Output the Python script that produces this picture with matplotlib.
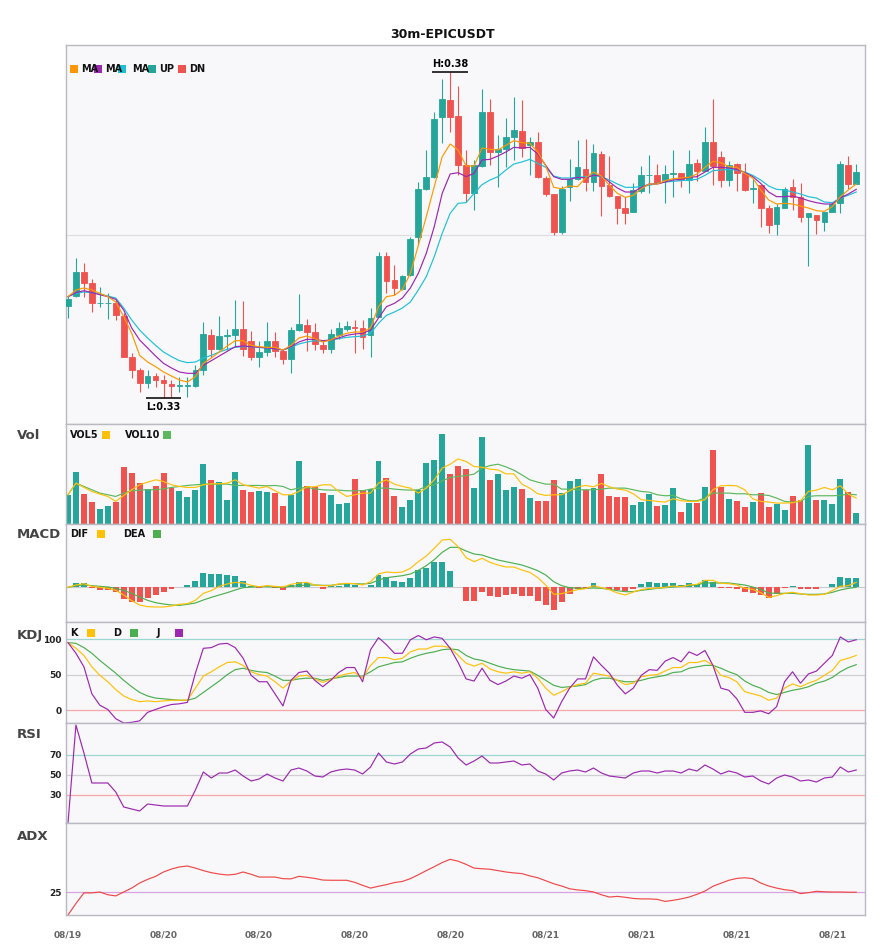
import matplotlib
matplotlib.use("Agg")
import matplotlib.pyplot as plt
from matplotlib.patches import Rectangle
import numpy as np
import pandas as pd

W, H = 885, 950
UP, DN = "#26a69a", "#ef5350"
BG, EDGE = "#f8f8fa", "#b9b9c2"
LW = 0.85

# prices in units of 1e-4
open_ = np.array([
    3437, 3452, 3488, 3471, 3441, 3441, 3442, 3422, 3361, 3341,
    3321, 3332, 3326, 3320, 3317, 3317, 3317, 3341, 3393, 3372,
    3392, 3393, 3402, 3385, 3361, 3368, 3385, 3370, 3358, 3401,
    3408, 3398, 3378, 3373, 3393, 3403, 3405, 3404, 3393, 3421,
    3512, 3476, 3463, 3483, 3541, 3613, 3631, 3720, 3746, 3722,
    3648, 3607, 3647, 3728, 3668, 3672, 3690, 3700, 3678, 3683,
    3629, 3605, 3548, 3615, 3628, 3643, 3623, 3665, 3618, 3602,
    3584, 3578, 3610, 3633, 3634, 3626, 3635, 3636, 3626, 3651,
    3640, 3683, 3660, 3626, 3650, 3636, 3613, 3618, 3584, 3560,
    3584, 3615, 3600, 3570, 3574, 3563, 3578, 3591, 3648, 3620]) / 1e4
high = np.array([
    3452, 3509, 3502, 3477, 3465, 3456, 3446, 3426, 3366, 3344,
    3341, 3337, 3333, 3326, 3331, 3331, 3348, 3413, 3403, 3422,
    3403, 3446, 3445, 3400, 3385, 3413, 3398, 3373, 3406, 3455,
    3418, 3411, 3386, 3402, 3413, 3414, 3416, 3416, 3434, 3518,
    3518, 3498, 3484, 3541, 3623, 3671, 3728, 3777, 3788, 3767,
    3671, 3656, 3763, 3748, 3693, 3719, 3751, 3746, 3691, 3698,
    3632, 3605, 3617, 3658, 3686, 3687, 3680, 3669, 3662, 3602,
    3601, 3622, 3647, 3663, 3650, 3648, 3671, 3636, 3671, 3658,
    3706, 3747, 3670, 3655, 3652, 3652, 3627, 3618, 3588, 3590,
    3616, 3627, 3621, 3576, 3574, 3578, 3593, 3655, 3662, 3650]) / 1e4
low = np.array([
    3419, 3450, 3451, 3428, 3436, 3418, 3416, 3360, 3329, 3308,
    3314, 3315, 3299, 3301, 3308, 3301, 3316, 3333, 3361, 3371,
    3371, 3376, 3362, 3356, 3345, 3362, 3361, 3350, 3337, 3400,
    3370, 3371, 3366, 3366, 3387, 3400, 3367, 3372, 3361, 3420,
    3456, 3453, 3461, 3482, 3528, 3611, 3629, 3681, 3698, 3633,
    3593, 3581, 3646, 3648, 3616, 3646, 3656, 3661, 3633, 3629,
    3602, 3543, 3545, 3595, 3626, 3610, 3610, 3572, 3601, 3560,
    3560, 3578, 3607, 3606, 3621, 3591, 3601, 3616, 3606, 3625,
    3639, 3618, 3616, 3617, 3610, 3610, 3592, 3556, 3546, 3543,
    3584, 3581, 3563, 3497, 3545, 3550, 3578, 3576, 3613, 3620]) / 1e4
close = np.array([
    3448, 3488, 3472, 3442, 3442, 3442, 3423, 3361, 3341, 3321,
    3332, 3326, 3321, 3317, 3318, 3318, 3341, 3395, 3373, 3392,
    3393, 3402, 3372, 3361, 3368, 3385, 3370, 3357, 3401, 3410,
    3398, 3380, 3373, 3395, 3404, 3407, 3404, 3390, 3419, 3512,
    3475, 3464, 3482, 3538, 3613, 3630, 3718, 3747, 3721, 3648,
    3606, 3648, 3728, 3668, 3672, 3690, 3701, 3674, 3683, 3630,
    3605, 3548, 3613, 3628, 3645, 3623, 3666, 3617, 3602, 3584,
    3577, 3611, 3633, 3634, 3622, 3635, 3636, 3626, 3650, 3640,
    3683, 3647, 3626, 3648, 3637, 3611, 3614, 3584, 3558, 3585,
    3613, 3600, 3571, 3576, 3566, 3578, 3590, 3650, 3620, 3638]) / 1e4

ma_names = ["MA", "MA", "MA"]
ma5 = np.array([
    3451, 3461, 3464, 3461, 3456, 3451, 3443, 3421, 3396, 3363,
    3353, 3346, 3338, 3332, 3326, 3323, 3331, 3351, 3359, 3368,
    3377, 3385, 3385, 3378, 3376, 3375, 3375, 3371, 3378, 3389,
    3392, 3388, 3383, 3386, 3392, 3396, 3398, 3398, 3404, 3436,
    3451, 3453, 3462, 3486, 3528, 3571, 3616, 3661, 3680, 3671,
    3647, 3647, 3674, 3672, 3671, 3678, 3685, 3682, 3681, 3668,
    3647, 3615, 3613, 3617, 3616, 3629, 3638, 3632, 3618, 3606,
    3600, 3603, 3613, 3620, 3620, 3625, 3628, 3629, 3630, 3635,
    3645, 3654, 3652, 3646, 3645, 3636, 3629, 3611, 3596, 3590,
    3591, 3590, 3587, 3584, 3580, 3579, 3586, 3601, 3611, 3620]) / 1e4
ma10 = np.array([
    3451, 3457, 3460, 3457, 3454, 3451, 3447, 3431, 3404, 3386,
    3374, 3362, 3351, 3344, 3338, 3336, 3336, 3348, 3355, 3362,
    3369, 3376, 3377, 3376, 3375, 3374, 3373, 3371, 3376, 3383,
    3387, 3387, 3385, 3386, 3389, 3393, 3395, 3396, 3401, 3419,
    3436, 3441, 3449, 3464, 3486, 3516, 3556, 3606, 3635, 3637,
    3631, 3636, 3656, 3657, 3662, 3668, 3675, 3674, 3675, 3665,
    3648, 3631, 3627, 3627, 3630, 3629, 3633, 3632, 3623, 3614,
    3608, 3608, 3615, 3620, 3620, 3623, 3626, 3627, 3630, 3631,
    3638, 3645, 3645, 3644, 3642, 3637, 3631, 3621, 3608, 3601,
    3601, 3602, 3599, 3595, 3592, 3590, 3590, 3599, 3605, 3612]) / 1e4
ma20 = np.array([
    3451, 3456, 3458, 3457, 3455, 3452, 3449, 3434, 3416, 3401,
    3389, 3378, 3368, 3361, 3355, 3352, 3353, 3359, 3363, 3368,
    3372, 3375, 3376, 3376, 3375, 3374, 3373, 3371, 3375, 3380,
    3383, 3385, 3384, 3386, 3388, 3390, 3391, 3392, 3396, 3411,
    3423, 3428, 3434, 3443, 3461, 3481, 3511, 3546, 3576, 3591,
    3592, 3606, 3619, 3626, 3631, 3641, 3650, 3653, 3657, 3651,
    3645, 3632, 3629, 3629, 3630, 3631, 3633, 3631, 3626, 3620,
    3615, 3615, 3616, 3618, 3621, 3623, 3624, 3625, 3626, 3627,
    3633, 3640, 3641, 3642, 3641, 3638, 3633, 3626, 3617, 3612,
    3611, 3608, 3605, 3601, 3599, 3593, 3592, 3599, 3603, 3608]) / 1e4

volume = np.array([
    88, 157, 91, 67, 46, 55, 66, 172, 154, 124,
    106, 115, 154, 108, 100, 82, 103, 181, 133, 127,
    73, 157, 103, 97, 100, 97, 94, 55, 88, 190,
    115, 112, 94, 88, 61, 64, 136, 103, 106, 190,
    139, 85, 52, 73, 103, 184, 193, 271, 151, 175,
    166, 109, 262, 133, 151, 103, 112, 106, 79, 70,
    70, 133, 94, 130, 136, 103, 109, 151, 85, 82,
    82, 58, 67, 91, 55, 58, 109, 37, 64, 64,
    112, 223, 112, 76, 70, 52, 67, 94, 52, 61,
    43, 85, 73, 238, 73, 73, 61, 136, 97, 34])
vol5 = np.array([
    88, 123, 110, 98, 90, 83, 68, 86, 103, 118,
    126, 133, 128, 118, 113, 110, 110, 118, 121, 121,
    123, 133, 118, 113, 108, 113, 100, 88, 88, 98,
    112, 112, 118, 118, 98, 83, 88, 93, 93, 123,
    133, 120, 113, 108, 93, 108, 133, 168, 180, 196,
    188, 173, 171, 165, 163, 151, 151, 120, 108, 91,
    86, 88, 88, 100, 112, 116, 112, 122, 112, 105,
    102, 91, 73, 71, 68, 66, 76, 70, 68, 68,
    73, 103, 115, 116, 115, 103, 76, 68, 66, 63,
    63, 64, 70, 98, 102, 110, 103, 115, 90, 78])
vol10 = np.array([
    88, 123, 113, 103, 93, 88, 83, 93, 100, 102,
    103, 103, 106, 110, 113, 116, 118, 120, 120, 120,
    120, 116, 116, 116, 116, 115, 116, 113, 103, 108,
    110, 106, 103, 102, 102, 100, 100, 100, 105, 108,
    108, 105, 103, 102, 103, 113, 118, 130, 140, 143,
    146, 150, 168, 176, 180, 172, 162, 148, 133, 126,
    120, 120, 105, 105, 103, 103, 103, 105, 108, 108,
    108, 103, 98, 96, 88, 85, 86, 76, 70, 70,
    78, 93, 93, 93, 91, 91, 88, 88, 86, 78,
    68, 66, 68, 83, 85, 85, 85, 86, 90, 88])

macd_hist = np.array([
    0, 13, 13, -2, -7, -7, -13, -34, -43, -43,
    -31, -22, -13, -4, 0, 7, 19, 43, 40, 40,
    37, 34, 19, 3, -2, 2, -2, -7, 7, 16,
    13, 0, -4, 3, 5, 9, 7, 0, 7, 37,
    31, 19, 16, 28, 52, 58, 76, 76, 49, 0,
    -40, -40, -13, -25, -29, -22, -19, -25, -25, -40,
    -52, -67, -43, -19, -4, -4, 13, 0, -4, -7,
    -10, -4, 9, 16, 13, 13, 13, 7, 13, 11,
    22, 16, -2, -2, -4, -13, -16, -22, -31, -19,
    -2, 3, -4, -4, -4, 0, 10, 31, 28, 28])
dif = np.array([
    0, 7, 11, 3, 0, -3, -9, -23, -40, -53,
    -58, -59, -59, -56, -51, -49, -39, -18, -10, 3,
    10, 15, 13, 6, 2, 5, 3, 1, 9, 13,
    15, 7, 5, 5, 10, 12, 11, 7, 17, 40,
    46, 44, 46, 57, 77, 94, 117, 142, 144, 122,
    89, 77, 87, 75, 67, 61, 61, 52, 45, 29,
    7, -21, -19, -13, -7, -4, 5, -1, -7, -17,
    -23, -14, -7, -3, -2, 0, 4, 2, 7, 9,
    21, 21, 12, 11, 7, -3, -6, -16, -30, -25,
    -18, -15, -19, -23, -23, -21, -10, 3, 5, 15])
dea = np.array([
    0, 5, 7, 5, 3, 1, -3, -9, -18, -29,
    -39, -46, -50, -53, -54, -51, -47, -38, -30, -23,
    -16, -8, -1, 1, 2, 2, 1, 0, 3, 5,
    7, 7, 6, 6, 9, 11, 11, 10, 12, 22,
    29, 32, 35, 40, 51, 65, 83, 105, 120, 120,
    109, 100, 97, 89, 82, 77, 72, 67, 59, 50,
    37, 17, 5, -1, -3, -3, -2, -3, -6, -10,
    -13, -13, -9, -6, -3, -1, 1, 3, 5, 8,
    13, 13, 13, 13, 10, 7, 1, -6, -17, -18,
    -18, -18, -20, -21, -21, -20, -15, -8, -3, 0])

k_line = np.array([
    95, 87, 77, 61, 49, 40, 29, 20, 15, 12,
    13, 12, 13, 14, 14, 14, 31, 48, 54, 61,
    67, 68, 63, 54, 50, 48, 40, 31, 41, 48,
    49, 44, 39, 43, 48, 51, 53, 45, 63, 74,
    74, 71, 73, 82, 86, 86, 90, 90, 88, 77,
    66, 62, 66, 58, 54, 52, 54, 52, 54, 45,
    31, 21, 26, 32, 36, 38, 52, 50, 48, 42,
    36, 38, 47, 49, 50, 55, 60, 60, 67, 67,
    70, 63, 49, 46, 40, 26, 23, 20, 14, 17,
    31, 37, 33, 38, 42, 49, 56, 70, 73, 77])
d_line = np.array([
    95, 94, 88, 80, 70, 61, 52, 42, 33, 25,
    20, 17, 16, 15, 14, 14, 17, 25, 33, 41,
    50, 57, 59, 56, 54, 53, 48, 42, 42, 44,
    45, 45, 42, 44, 46, 48, 48, 48, 54, 61,
    64, 67, 68, 73, 77, 80, 82, 85, 86, 85,
    77, 72, 70, 66, 62, 59, 57, 56, 55, 49,
    42, 35, 32, 33, 34, 36, 42, 45, 45, 42,
    40, 40, 42, 45, 47, 49, 53, 54, 59, 61,
    63, 63, 59, 54, 50, 41, 35, 31, 25, 22,
    25, 28, 30, 33, 38, 41, 46, 54, 60, 64])
j_line = np.array([
    95, 80, 61, 23, 7, 1, -12, -18, -17, -15,
    -3, 1, 5, 8, 9, 11, 52, 87, 88, 93,
    94, 88, 73, 49, 40, 40, 23, 6, 42, 53,
    55, 42, 33, 42, 53, 60, 60, 40, 85, 102,
    92, 80, 80, 99, 105, 99, 103, 101, 87, 67,
    44, 41, 59, 42, 36, 41, 48, 45, 50, 31,
    1, -11, 12, 31, 44, 44, 75, 63, 52, 35,
    23, 31, 49, 57, 56, 69, 74, 68, 82, 77,
    84, 63, 31, 28, 16, -3, -3, -1, -5, 5,
    40, 54, 38, 51, 55, 66, 77, 103, 96, 99])

rsi = np.array([
    2, 100, 72, 42, 42, 42, 33, 18, 16, 14,
    21, 20, 19, 19, 19, 19, 35, 53, 47, 52,
    52, 55, 49, 44, 46, 51, 47, 44, 55, 57,
    54, 49, 48, 53, 55, 56, 55, 51, 58, 72,
    63, 61, 63, 71, 76, 77, 82, 83, 78, 67,
    60, 64, 69, 62, 62, 63, 64, 60, 61, 54,
    51, 45, 52, 54, 55, 53, 57, 52, 49, 48,
    47, 52, 54, 54, 52, 54, 54, 52, 56, 54,
    60, 56, 51, 54, 52, 48, 49, 44, 41, 47,
    50, 48, 44, 45, 43, 47, 48, 58, 53, 55])

adx = np.array([
    15, 20, 24.6, 24.6, 25, 23.8, 23.3, 25, 26.7, 28.9,
    30.5, 31.8, 33.7, 35, 35.9, 36.3, 35.4, 34.3, 33.4, 32.8,
    32.4, 32.7, 33.7, 32.7, 31.5, 31.5, 31.5, 30.8, 30.7, 31.8,
    31.4, 30.9, 30.2, 30.1, 30.1, 30.1, 29.2, 27.9, 26.7, 27.5,
    28.2, 29.1, 29.6, 30.8, 32.5, 34.3, 36, 37.8, 39.2, 38.4,
    37, 35.4, 35.1, 34.9, 34.3, 33.7, 33.3, 33, 32, 31.2,
    29.9, 28.6, 27.6, 26.4, 25.9, 25.6, 25, 23.8, 22.8, 23.1,
    22.7, 22.2, 22, 22, 21.8, 20.9, 21.4, 22, 22.8, 24,
    25.4, 27.5, 28.8, 30.1, 30.9, 31.2, 30.8, 28.9, 27.6, 26.7,
    26, 25.6, 24.3, 24.7, 25.3, 25.1, 25, 25, 24.9, 24.9])

dates = pd.date_range("2023-08-19 18:00", periods=len(close), freq="30min")


def panel(fig, top, bottom):
    ax = fig.add_axes([66 / W, 1 - bottom / H, 799 / W, (bottom - top) / H])
    ax.set_facecolor(BG)
    for s in ax.spines.values():
        s.set_color(EDGE)
        s.set_linewidth(1.0)
    ax.set_xlim(-0.25, 100.1)
    ax.set_xticks([])
    ax.set_yticks([])
    return ax


def swatch(fig, x, y, color):
    fig.add_artist(Rectangle((x / W, 1 - (y + 4) / H), 8 / W, 8 / H,
                             transform=fig.transFigure, color=color, lw=0))


def label(fig, x, y, s, size=7, color="#111111"):
    fig.text(x / W, 1 - y / H, s, fontsize=size, color=color, ha="left", va="center")


def main():
    plt.rcParams["font.family"] = ["DejaVu Sans"]
    plt.rcParams["font.weight"] = "bold"
    fig = plt.figure(figsize=(W / 100, H / 100), dpi=100)
    fig.patch.set_facecolor("white")
    x = np.arange(len(close))
    colors = np.where(close >= open_, UP, DN)

    # candles + MAs
    ax = panel(fig, 45, 424)
    ax.set_ylim(0.3260, 0.38285)
    ax.axhline(sum(ax.get_ylim()) / 2, color="#dcdce2", lw=0.8, zorder=0)
    ax.vlines(x, low, high, colors=colors, lw=0.8, zorder=2)
    ax.bar(x, np.abs(close - open_), bottom=np.minimum(open_, close), width=0.72,
           color=colors, edgecolor=colors, linewidth=0.6, zorder=3)
    for ma, c in zip([ma20, ma10, ma5], ["#1ec0d8", "#9c27b0", "#ff9800"]):
        ax.plot(x, ma, color=c, lw=LW, zorder=4)
    hi, lo = int(np.argmax(high)), int(np.argmin(low))
    ax.hlines(high[hi], hi - 2.25, hi + 2.25, color="#111111", lw=1.2, zorder=5)
    ax.annotate(f"H:{high[hi]:.2f}", (hi, high[hi]), xytext=(0, 2), textcoords="offset points",
                ha="center", va="bottom", fontsize=7)
    ax.hlines(low[lo], lo - 2.25, lo + 2.25, color="#111111", lw=1.2, zorder=5)
    ax.annotate(f"L:{low[lo]:.2f}", (lo, low[lo]), xytext=(0, -3), textcoords="offset points",
                ha="center", va="top", fontsize=7)

    # volume
    ax_v = panel(fig, 424, 524)
    ax_v.set_ylim(0, 301)
    ax_v.bar(x, volume, width=0.75, color=colors, zorder=2)
    ax_v.plot(x, vol10, color="#5cb85c", lw=LW, zorder=3)
    ax_v.plot(x, vol5, color="#ffc107", lw=LW, zorder=4)

    # MACD
    ax_m = panel(fig, 524, 622)
    ax_m.set_ylim(-104, 190)
    ax_m.axhline(0, color="#cccccc", lw=0.8, zorder=0)
    ax_m.bar(x, macd_hist, width=0.75, color=np.where(macd_hist >= 0, UP, DN), zorder=2)
    ax_m.plot(x, dea, color="#4caf50", lw=LW, zorder=3)
    ax_m.plot(x, dif, color="#ffc107", lw=LW, zorder=4)

    # KDJ
    ax_k = panel(fig, 622, 723)
    ax_k.set_ylim(-18, 124)
    for lvl, c in [(100, "#9dd5d0"), (50, "#cfcfd4"), (0, "#f6a8a8")]:
        ax_k.axhline(lvl, color=c, lw=0.9, zorder=0)
    ax_k.plot(x, d_line, color="#4caf50", lw=LW)
    ax_k.plot(x, k_line, color="#ffc107", lw=LW)
    ax_k.plot(x, j_line, color="#9c27b0", lw=LW)
    ax_k.set_yticks([0, 50, 100])

    # RSI
    ax_r = panel(fig, 723, 823)
    ax_r.set_ylim(2, 102)
    for lvl, c in [(70, "#9dd5d0"), (50, "#cfcfd4"), (30, "#f6a8a8")]:
        ax_r.axhline(lvl, color=c, lw=0.9, zorder=0)
    ax_r.plot(x, rsi, color="#9c27b0", lw=LW)
    ax_r.set_yticks([30, 50, 70])

    # ADX
    ax_a = panel(fig, 823, 915)
    ax_a.set_ylim(15, 55)
    ax_a.axhline(25, color="#d7a3e0", lw=0.9, zorder=0)
    ax_a.plot(x, adx, color="#f04848", lw=LW)
    ax_a.set_yticks([25])
    ax_a.set_xticks(x[::12])
    ax_a.set_xticklabels(dates[::12].strftime("%m/%d"))
    ax_a.tick_params(axis="x", length=0, pad=11, labelsize=6.5, labelcolor="#666666")

    for a in (ax_k, ax_r, ax_a):
        a.tick_params(axis="y", length=0, pad=3, labelsize=6.5, labelcolor="#222222")

    # title, panel names, legends
    fig.text(0.5, 1 - 34 / H, "30m-EPICUSDT", ha="center", va="center", fontsize=9, color="#111111")
    for name, y in [("Vol", 436), ("MACD", 535), ("KDJ", 635), ("RSI", 735), ("ADX", 836)]:
        label(fig, 17, y, name, size=9.5, color="#444444")

    for sx, tx, c, s in zip([70, 94, 118, 148, 178], [81, 105, 132, 159, 189],
                            ["#ff9800", "#9c27b0", "#1ec0d8", UP, DN], ma_names + ["UP", "DN"]):
        swatch(fig, sx, 69, c)
        label(fig, tx, 69, s)
    label(fig, 70, 435, "VOL5")
    swatch(fig, 102, 435, "#ffc107")
    label(fig, 125, 435, "VOL10")
    swatch(fig, 163, 435, "#5cb85c")
    label(fig, 70, 534, "DIF")
    swatch(fig, 97, 534, "#ffc107")
    label(fig, 123, 534, "DEA")
    swatch(fig, 153, 534, "#4caf50")
    for tx, sx, s, c in [(70, 87, "K", "#ffc107"), (113, 130, "D", "#4caf50"), (157, 175, "J", "#9c27b0")]:
        label(fig, tx, 633, s)
        swatch(fig, sx, 633, c)

    fig.savefig("out.png", dpi=100)
    plt.close(fig)


if __name__ == "__main__":
    main()
